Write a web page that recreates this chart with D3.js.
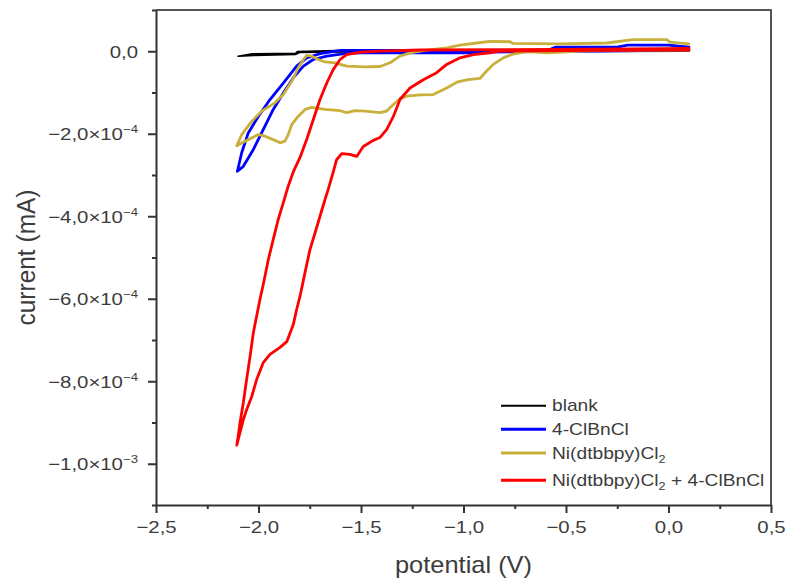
<!DOCTYPE html>
<html>
<head>
<meta charset="utf-8">
<script src="https://cdn.jsdelivr.net/npm/d3@7"></script>
<style>
  body { margin: 0; background: #fff; }
  svg { display: block; }
  text { font-family: Arial, "Liberation Sans", sans-serif; }
</style>
</head>
<body>
<svg id="chart" width="789" height="584"></svg>
<script>
// ---- axis ticks ----
const xTicks = [-2.5, -2.0, -1.5, -1.0, -0.5, 0.0, 0.5];          // potential (V)
const xMinorTicks = [-2.25, -1.75, -1.25, -0.75, -0.25, 0.25];
const yTicks = [0, -2e-4, -4e-4, -6e-4, -8e-4, -1e-3];               // current (mA)
const yMinorTicks = [1e-4, -1e-4, -3e-4, -5e-4, -7e-4, -9e-4, -1.1e-3];

// currents below are given in units of 1e-4 mA
const CURRENT_UNIT = 1e-4;

// ---- blank (forward scan to -2.1 V, then back) ----
const blankPotential = [0.10, -1.00, -1.60, -1.80, -1.82, -2.02, -2.10,
                        -2.03, -1.82, -1.81, -1.62, -1.00, 0.10];
const blankCurrent   = [0.00, -0.01, -0.02, -0.03, -0.08, -0.10, -0.12,
                        -0.06, -0.05, -0.01, 0.02, 0.02, 0.02];

// ---- 4-ClBnCl ----
const clbnPotential = [0.10, -0.50, -0.90, -0.95, -1.11, -1.20, -1.50, -1.58, -1.667, -1.733,
                       -1.781, -1.830, -1.879, -1.928, -1.977, -2.025, -2.074, -2.103,
                       -2.082, -2.050, -2.001, -1.944, -1.879, -1.814, -1.765, -1.70, -1.60,
                       -1.35, -1.20, -0.60, -0.55, -0.25, -0.20, 0.00, 0.10];
const clbnCurrent   = [0.03, 0.00, -0.02, -0.04, -0.04, -0.03, -0.04, -0.06, -0.12, -0.20,
                       -0.36, -0.64, -1.01, -1.41, -1.90, -2.38, -2.79, -2.91,
                       -2.46, -1.98, -1.58, -1.17, -0.77, -0.36, -0.16, -0.06, 0.02,
                       0.02, 0.00, 0.00, 0.10, 0.10, 0.15, 0.15, 0.10];

// ---- Ni(dtbbpy)Cl2 ----
const niPotential = [0.10, -0.33, -0.59, -0.69, -0.76, -0.806, -0.855, -0.887, -0.92, -0.978,
                     -1.033, -1.082, -1.115, -1.147, -1.212, -1.277, -1.31, -1.342, -1.375, -1.407,
                     -1.48, -1.529, -1.57, -1.602, -1.676, -1.74, -1.773, -1.807, -1.838, -1.855,
                     -1.871, -1.895, -1.92, -1.968, -2.001, -2.033, -2.066, -2.106,
                     -2.082, -2.033, -1.984, -1.92, -1.879, -1.838, -1.806, -1.781, -1.765, -1.74,
                     -1.708, -1.676, -1.627, -1.57, -1.48, -1.407, -1.359, -1.31, -1.261, -1.188,
                     -1.082, -1.017, -0.936, -0.871, -0.773, -0.759, -0.529, -0.301, -0.172, -0.009,
                     0.007, 0.10];
const niCurrent   = [0.03, 0.03, -0.04, -0.01, -0.07, -0.16, -0.32, -0.48, -0.66, -0.69,
                     -0.75, -0.89, -0.97, -1.05, -1.06, -1.09, -1.15, -1.29, -1.45, -1.49,
                     -1.45, -1.44, -1.49, -1.44, -1.41, -1.36, -1.41, -1.58, -1.78, -2.02,
                     -2.18, -2.22, -2.16, -2.06, -2.02, -2.10, -2.18, -2.29,
                     -2.02, -1.70, -1.45, -1.25, -1.05, -0.73, -0.40, -0.20, -0.10, -0.12,
                     -0.20, -0.26, -0.28, -0.36, -0.38, -0.37, -0.28, -0.12, -0.04, 0.02,
                     0.08, 0.15, 0.20, 0.24, 0.23, 0.19, 0.18, 0.20, 0.28, 0.28,
                     0.22, 0.18];

// ---- Ni(dtbbpy)Cl2 + 4-ClBnCl ----
const mixPotential = [0.10, -0.334, -0.822, -0.871, -0.952, -1.017, -1.082, -1.131, -1.196, -1.261,
                      -1.31, -1.342, -1.375, -1.407, -1.44, -1.489, -1.521, -1.554, -1.594, -1.619,
                      -1.635, -1.66, -1.676, -1.70, -1.724, -1.749, -1.773, -1.798, -1.814, -1.83,
                      -1.862, -1.895, -1.944, -1.977, -2.009, -2.033, -2.058, -2.074, -2.09, -2.106,
                      -2.098, -2.09, -2.074, -2.058, -2.041, -2.025, -2.009, -1.993, -1.977, -1.952,
                      -1.928, -1.904, -1.879, -1.855, -1.83, -1.798, -1.765, -1.733, -1.70, -1.667,
                      -1.635, -1.602, -1.57, -1.505, -1.407, -1.212, -0.822, -0.334, 0.10];
const mixCurrent   = [0.03, 0.02, 0.005, -0.04, -0.08, -0.16, -0.32, -0.52, -0.69, -0.89,
                      -1.17, -1.58, -1.90, -2.09, -2.16, -2.31, -2.55, -2.50, -2.48, -2.63,
                      -2.92, -3.35, -3.60, -4.00, -4.40, -4.81, -5.36, -5.95, -6.26, -6.62,
                      -7.04, -7.18, -7.35, -7.55, -7.96, -8.37, -8.69, -8.93, -9.24, -9.55,
                      -9.29, -9.00, -8.52, -7.96, -7.39, -6.82, -6.42, -6.02, -5.66, -5.05,
                      -4.56, -4.08, -3.67, -3.27, -2.92, -2.58, -2.14, -1.66, -1.17, -0.77,
                      -0.44, -0.20, -0.08, -0.02, 0.005, 0.03, 0.04, 0.05, 0.07];

const seriesNames  = ["blank", "4-ClBnCl", "Ni(dtbbpy)Cl2", "Ni(dtbbpy)Cl2 + 4-ClBnCl"];
const seriesColors = ["#000000", "#0000ff", "#c9b03c", "#ff0000"];
const seriesWidths = [1.6, 2.8, 2.8, 2.8];

const series = [
  { name: seriesNames[0], potential: blankPotential, current: blankCurrent },
  { name: seriesNames[1], potential: clbnPotential,  current: clbnCurrent },
  { name: seriesNames[2], potential: niPotential,    current: niCurrent },
  { name: seriesNames[3], potential: mixPotential,   current: mixCurrent }
];

// ---- layout ----
const svg = d3.select("#chart");
const plot = { left: 156, right: 771, top: 10, bottom: 505 };
const axisColor = "#333";
const labelColor = "#3c3c3c";
const stretch = 1.2;   // horizontal glyph stretch for tick and legend labels

const x = d3.scaleLinear().domain([-2.5, 0.5]).range([plot.left, plot.right]);
const y = d3.scaleLinear().domain([-1.1e-3, 1e-4]).range([plot.bottom, plot.top]);

const MINUS = "\u2212";
function fmtX(v) {
  return v.toFixed(1).replace(".", ",").replace("-", MINUS);
}
function splitY(v) {
  if (v === 0) return { base: "0,0", sup: null };
  const e = Math.floor(Math.log10(Math.abs(v)) + 1e-9);
  const m = v / Math.pow(10, e);
  return {
    base: m.toFixed(1).replace(".", ",").replace("-", MINUS) + "\u00d710",
    sup: String(e).replace("-", MINUS)
  };
}

// ---- frame (top and right) ----
svg.append("path")
  .attr("d", `M${plot.left},${plot.top}H${plot.right}V${plot.bottom}`)
  .attr("fill", "none")
  .attr("stroke", "#555")
  .attr("stroke-width", 2)
  .attr("stroke-linejoin", "round");

// ---- minor ticks ----
svg.append("g")
  .attr("transform", `translate(0,${plot.bottom})`)
  .call(d3.axisBottom(x).tickValues(xMinorTicks).tickSize(4).tickFormat(() => ""))
  .call(g => g.select(".domain").remove())
  .call(g => g.selectAll("line").attr("stroke", axisColor).attr("stroke-width", 2));
svg.append("g")
  .attr("transform", `translate(${plot.left},0)`)
  .call(d3.axisLeft(y).tickValues(yMinorTicks).tickSize(4).tickFormat(() => ""))
  .call(g => g.select(".domain").remove())
  .call(g => g.selectAll("line").attr("stroke", axisColor).attr("stroke-width", 2));

// ---- x axis ----
const xAxis = svg.append("g")
  .attr("transform", `translate(0,${plot.bottom})`)
  .call(d3.axisBottom(x).tickValues(xTicks).tickSize(8).tickSizeOuter(0).tickFormat(() => ""));
xAxis.select(".domain").attr("stroke", axisColor).attr("stroke-width", 2);
xAxis.selectAll(".tick line").attr("stroke", axisColor).attr("stroke-width", 2);
xAxis.selectAll(".tick text").remove();
xAxis.selectAll(".tick").append("text")
  .attr("transform", `translate(0,28) scale(${stretch},1)`)
  .attr("text-anchor", "middle")
  .attr("fill", labelColor)
  .attr("font-size", 17)
  .text(d => fmtX(d));

// ---- y axis ----
const yAxis = svg.append("g")
  .attr("transform", `translate(${plot.left},0)`)
  .call(d3.axisLeft(y).tickValues(yTicks).tickSize(8).tickSizeOuter(0).tickFormat(() => ""));
yAxis.select(".domain").attr("stroke", axisColor).attr("stroke-width", 2);
yAxis.selectAll(".tick line").attr("stroke", axisColor).attr("stroke-width", 2);
yAxis.selectAll(".tick text").remove();
yAxis.selectAll(".tick").each(function(d) {
  const parts = splitY(d);
  const t = d3.select(this).append("text")
    .attr("transform", `translate(-18,6) scale(${stretch},1)`)
    .attr("text-anchor", "end")
    .attr("fill", labelColor)
    .attr("font-size", 17);
  t.append("tspan").text(parts.base);
  if (parts.sup) {
    t.append("tspan").attr("font-size", 11).attr("dy", -7).text(parts.sup);
  }
});

// ---- axis titles ----
svg.append("text")
  .attr("transform", `translate(${(plot.left + plot.right) / 2},573) scale(1.06,1)`)
  .attr("text-anchor", "middle")
  .attr("fill", labelColor)
  .attr("font-size", 24)
  .text("potential (V)");
svg.append("text")
  .attr("transform", `translate(35,${(plot.top + plot.bottom) / 2}) scale(1.06,1) rotate(-90)`)
  .attr("text-anchor", "middle")
  .attr("fill", labelColor)
  .attr("font-size", 24.5)
  .text("current (mA)");

// ---- curves ----
const line = d3.line()
  .x(d => x(d[0]))
  .y(d => y(d[1] * CURRENT_UNIT))
  .curve(d3.curveLinear);

svg.append("g").selectAll("path")
  .data(series)
  .join("path")
  .attr("d", s => line(d3.zip(s.potential, s.current)))
  .attr("fill", "none")
  .attr("stroke", (s, i) => seriesColors[i])
  .attr("stroke-width", (s, i) => seriesWidths[i])
  .attr("stroke-linejoin", "round")
  .attr("stroke-linecap", "round");

// ---- legend ----
const legendRowY = [405.7, 429.2, 453.0, 480.3];
const legend = svg.append("g");
series.forEach((s, i) => {
  const ry = legendRowY[i];
  legend.append("line")
    .attr("x1", 501).attr("x2", 546)
    .attr("y1", ry).attr("y2", ry)
    .attr("stroke", seriesColors[i])
    .attr("stroke-width", i === 0 ? 2 : 3);
  const t = legend.append("text")
    .attr("transform", `translate(552,${ry + 5.5}) scale(${stretch},1)`)
    .attr("fill", labelColor)
    .attr("font-size", 16);
  // render the "Cl2" subscript
  const pieces = s.name.split("Cl2");
  pieces.forEach((p, k) => {
    if (k > 0) {
      t.append("tspan").text("Cl");
      t.append("tspan").attr("font-size", 10.5).attr("dy", 4).text("2");
      t.append("tspan").attr("dy", -4).text(p);
    } else {
      t.append("tspan").text(p);
    }
  });
});
</script>
</body>
</html>
